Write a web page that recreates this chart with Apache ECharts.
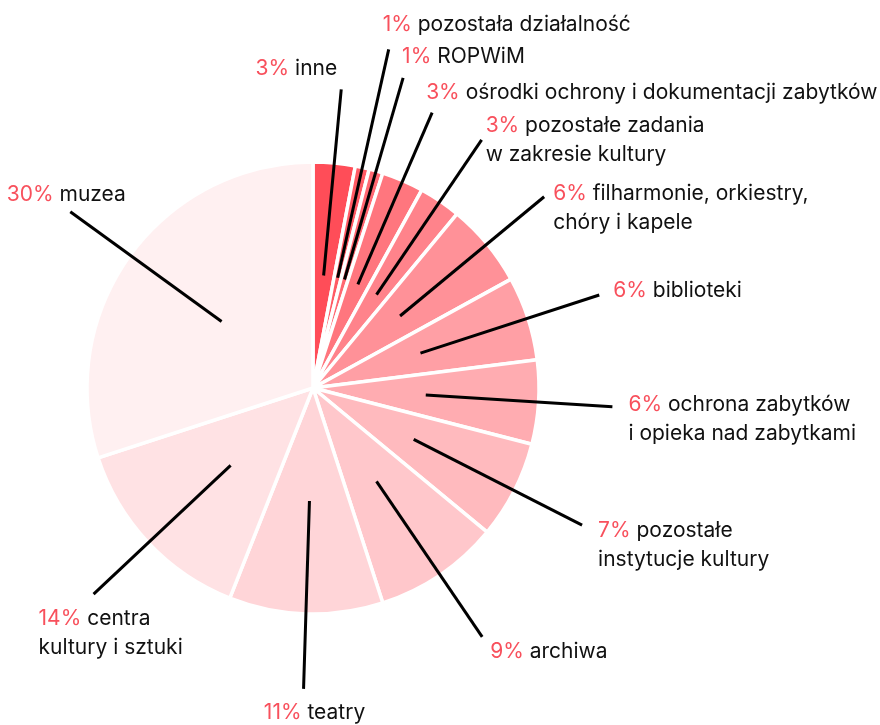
<!DOCTYPE html>
<html lang="pl">
<head>
<meta charset="utf-8">
<title>Struktura wydatków na kulturę</title>
<script src="https://cdn.jsdelivr.net/npm/echarts@6/dist/echarts.min.js"></script>
<style>
  html, body { margin: 0; padding: 0; background: #ffffff; }
  #chart { width: 880px; height: 725px; }
</style>
</head>
<body>
<div id="chart"></div>
<script>
// Categories in clockwise order, starting at twelve o'clock
const categories = [
  'inne',
  'pozostała działalność',
  'ROPWiM',
  'ośrodki ochrony i dokumentacji zabytków',
  'pozostałe zadania\nw zakresie kultury',
  'filharmonie, orkiestry,\nchóry i kapele',
  'biblioteki',
  'ochrona zabytków\ni opieka nad zabytkami',
  'pozostałe\ninstytucje kultury',
  'archiwa',
  'teatry',
  'centra\nkultury i sztuki',
  'muzea'
];

// Share of each category, in percent
const shares = [3, 1, 1, 3, 3, 6, 6, 6, 7, 9, 11, 14, 30];

// Slice fills, from deep coral to the palest pink
const sliceColors = [
  '#ff4d58', '#ff5b65', '#ff6872', '#ff767e', '#ff838b', '#ff9198', '#ff9fa5',
  '#ffacb1', '#ffbabe', '#ffc7cb', '#ffd5d8', '#ffe2e4', '#fff0f1'
];

// Pie geometry (px)
const CX = 313, CY = 388, R = 226;
const LEADER_START = 113;          // leader lines start half-way into the slice
const LINE_H = 29;                 // label line height

// Where each leader line ends (distance from centre) and how its label sits there
const leaderReach = [300, 347, 323, 300, 300, 300, 301, 300, 302, 301, 301, 301, 300];
const labelPlacement = [
  { align: 'right',  dx: -4,   dy: -21 },
  { align: 'left',   dx: -6,   dy: -25 },
  { align: 'left',   dx: -1,   dy: -21 },
  { align: 'left',   dx: -6,   dy: -20 },
  { align: 'left',   dx: 4,    dy: -14 },
  { align: 'left',   dx: 9,    dy: -3 },
  { align: 'left',   dx: 14,   dy: -4 },
  { align: 'left',   dx: 16,   dy: -2 },
  { align: 'left',   dx: 16,   dy: 6 },
  { align: 'left',   dx: 8,    dy: 15 },
  { align: 'center', dx: 11,   dy: 24 },
  { align: 'left',   dx: -55,  dy: 25 },
  { align: 'center', dx: -4,   dy: -17 }
];

const FONT = 'Inter, "Noto Sans", sans-serif';

const seriesData = categories.map(function (name, i) {
  return { name: name, value: shares[i], itemStyle: { color: sliceColors[i] } };
});

const chart = echarts.init(document.getElementById('chart'), null, { renderer: 'canvas' });

chart.setOption({
  animation: false,
  backgroundColor: '#ffffff',
  series: [
    // Coloured slices
    {
      type: 'pie',
      z: 2,
      center: [CX, CY],
      radius: [0, R],
      startAngle: 90,
      clockwise: true,
      silent: true,
      emphasis: { disabled: true },
      itemStyle: { borderColor: '#ffffff', borderWidth: 3.5 },
      label: { show: false },
      labelLine: { show: false },
      data: seriesData
    },
    // Same shares again, drawn on top with transparent fill: carries the leader lines and labels
    {
      type: 'pie',
      z: 3,
      center: [CX, CY],
      radius: [0, R],
      startAngle: 90,
      clockwise: true,
      avoidLabelOverlap: false,
      silent: true,
      emphasis: { disabled: true },
      itemStyle: { color: 'rgba(0,0,0,0)', borderWidth: 0 },
      label: {
        show: true,
        position: 'outside',
        fontFamily: FONT,
        fontSize: 21,
        lineHeight: LINE_H,
        color: '#111111',
        formatter: function (p) {
          const lines = p.name.split('\n');
          let s = '{p|' + p.value + '%} {n|' + lines[0] + '}';
          for (let k = 1; k < lines.length; k++) s += '\n{n|' + lines[k] + '}';
          return s;
        },
        rich: {
          p: { color: '#f8505c', fontFamily: FONT, fontSize: 21, lineHeight: LINE_H },
          n: { color: '#111111', fontFamily: FONT, fontSize: 21, lineHeight: LINE_H }
        }
      },
      labelLine: {
        show: true,
        length: 60,
        length2: 0,
        smooth: false,
        lineStyle: { color: '#000000', width: 3 }
      },
      labelLayout: function (params) {
        const i = params.dataIndex;
        const pts = params.labelLinePoints;
        const ddx = pts[0][0] - CX, ddy = pts[0][1] - CY;
        const len = Math.sqrt(ddx * ddx + ddy * ddy) || 1;
        const ux = ddx / len, uy = ddy / len;
        const start = [CX + ux * LEADER_START, CY + uy * LEADER_START];
        const end = [CX + ux * leaderReach[i], CY + uy * leaderReach[i]];
        const pl = labelPlacement[i];
        return {
          x: end[0] + pl.dx,
          y: end[1] + pl.dy - LINE_H / 2,
          align: pl.align,
          verticalAlign: 'top',
          labelLinePoints: [start, end, end]
        };
      },
      data: categories.map(function (name, i) {
        return { name: name, value: shares[i] };
      })
    }
  ]
});
</script>
</body>
</html>
